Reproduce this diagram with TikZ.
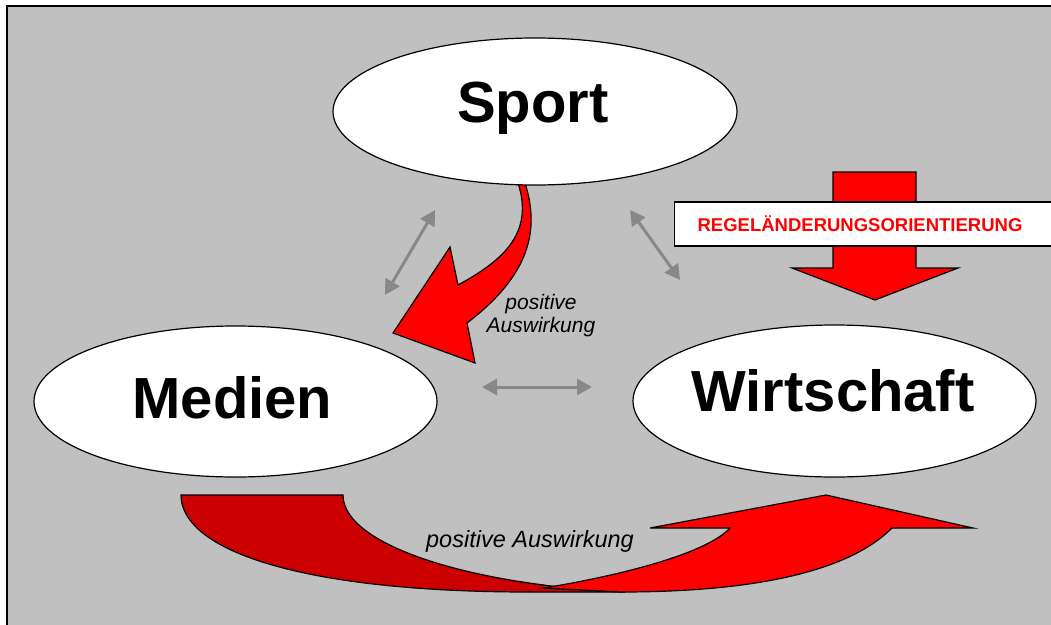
\documentclass[tikz,border=0pt]{standalone}
\usepackage{fontspec}
\setmainfont{Liberation Sans}
\usetikzlibrary{arrows.meta,shapes.geometric}
\definecolor{bggray}{RGB}{192,192,192}
\definecolor{linkgray}{RGB}{136,136,136}
\definecolor{deepred}{RGB}{204,0,0}
\tikzset{
	blob/.style={ellipse, draw=black, line width=1.2pt, fill=white, inner sep=0pt},
	bigword/.style={font=\fontsize{58}{58}\selectfont\bfseries, inner sep=0pt, text height=41.5pt, text depth=0pt},
	note/.style={font=\fontsize{21}{23}\selectfont\itshape, inner sep=0pt, align=center},
	redarrow/.style={draw=black, line width=1.2pt, fill=red, line join=miter},
	link/.style={draw=linkgray, line width=3pt, {Triangle[length=15pt,width=16pt]}-{Triangle[length=15pt,width=16pt]}},
	regelbox/.style={draw=black, line width=1.2pt, fill=white, anchor=west, minimum height=44pt, text width=370pt, inner xsep=23pt, text=red, font=\fontsize{18.5}{18.5}\selectfont\bfseries}
}
\begin{document}
\begin{tikzpicture}[x=1pt, y=-1pt]
	\useasboundingbox (0,0) rectangle (1051,624);
	\fill[white] (0,0) rectangle (1051,624);
	\draw[line width=2pt, fill=bggray] (7,6) rectangle (1070,640);
	% the three ends of the gray links
	\path (435,210) coordinate (sm1) (385,295) coordinate (sm2)
		(630,210) coordinate (sw1) (680,280) coordinate (sw2)
		(482,387) coordinate (mw1) (592,387) coordinate (mw2);
	\foreach \a/\b in {sm1/sm2, sw1/sw2, mw1/mw2}
		\draw[link] (\a)--(\b);
	% arrow Sport -> Medien
	\draw[redarrow] (525,183) .. controls (540,230) and (530,275) .. (467,323)
		-- (475,363) -- (393,333) -- (450,247) -- (458,285)
		.. controls (500,262) and (535,235) .. (518,183) -- cycle;
	% arrow down onto Wirtschaft
	\draw[redarrow] (833,172) -- (916,172) -- (916,268) -- (958,268) -- (875,300)
		-- (792,268) -- (833,268) -- cycle;
	\node[regelbox] (regel) at (674,224) {REGELÄNDERUNGSORIENTIERUNG};
	% lower arrow Medien -> Wirtschaft
	\draw[redarrow, fill=deepred] (181,495) -- (343,495)
		.. controls (343,545) and (470,585) .. (625,592) -- (530,592)
		.. controls (300,592) and (181,550) .. (181,495) -- cycle;
	\draw[redarrow] (544,588) .. controls (640,572) and (710,550) .. (730,528)
		-- (650,528) -- (826,495) -- (973,528) -- (892,528)
		.. controls (850,570) and (760,592) .. (620,592) -- cycle;
	% the ellipses
	\node[blob, minimum width=404pt, minimum height=147pt] (sport) at (535,111.5) {};
	\node[blob, minimum width=403pt, minimum height=151pt] (medien) at (235.5,401.5) {};
	\node[blob, minimum width=403pt, minimum height=152pt] (wirt) at (834.5,401) {};
	\node[bigword] (sportword) at (533,102) {Sport};
	\node[bigword] (medienword) at (232.5,398) {Medien};
	\node[bigword] (wirtword) at (833,391) {Wirtschaft};
	\node[note] (effect1) at (541,316) {positive\\Auswirkung};
	\node[note, anchor=base, font=\fontsize{23.5}{23.5}\selectfont\itshape] (effect2) at (530,547) {positive Auswirkung};
\end{tikzpicture}
\end{document}
